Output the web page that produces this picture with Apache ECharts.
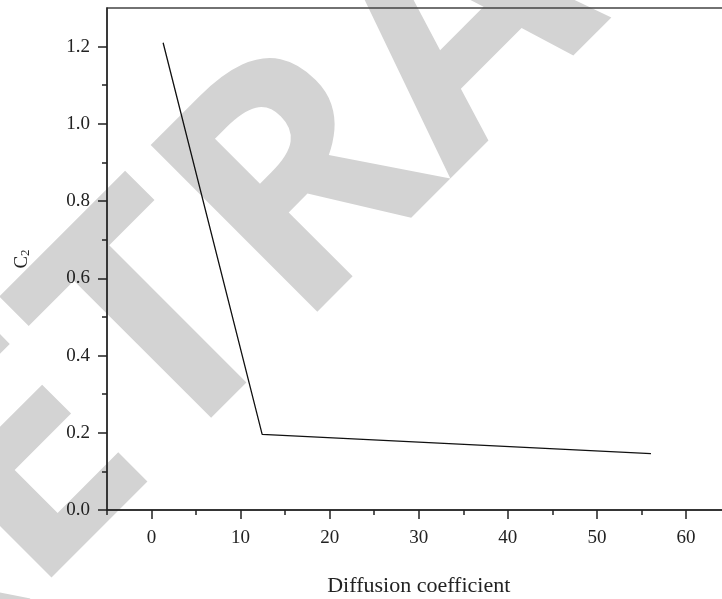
<!DOCTYPE html>
<html>
<head>
<meta charset="utf-8">
<script src="https://cdn.jsdelivr.net/npm/echarts@6/dist/echarts.min.js"></script>
<style>
  html, body { margin: 0; padding: 0; background: #fff; }
  #main { width: 722px; height: 599px; }
</style>
</head>
<body>
<div id="main"></div>
<script>
// data
var diffusion = [1.3, 12.42, 56.07];
var c2 = [1.21, 0.196, 0.146];

// tick positions
var xMajor = [0, 10, 20, 30, 40, 50, 60];
var xMinor = [-5, 5, 15, 25, 35, 45, 55, 65];
var yMajor = [0, 0.2, 0.4, 0.6, 0.8, 1.0, 1.2];
var yMinor = [0.1, 0.3, 0.5, 0.7, 0.9, 1.1];

var serif = '"Liberation Serif", "DejaVu Serif", serif';

var points = [];
for (var i = 0; i < diffusion.length; i++) {
  points.push([diffusion[i], c2[i]]);
}

var myChart = echarts.init(document.getElementById('main'));

var option = {
  backgroundColor: '#fff',
  animation: false,
  grid: {
    left: 107, top: 8, width: 623.5, height: 502,
    outerBoundsMode: 'none',
    containLabel: false,
    show: true, borderColor: '#444', borderWidth: 1.3, backgroundColor: 'transparent'
  },
  // watermark
  graphic: [{
    type: 'text',
    x: -190, y: 686,
    rotation: Math.PI / 4,
    z: -10,
    silent: true,
    style: {
      text: 'RETRACTED',
      fill: '#d3d3d3',
      font: 'bold 330px "Open Sans", sans-serif',
      textAlign: 'left',
      textVerticalAlign: 'middle'
    }
  }],
  xAxis: [
    {
      type: 'value', min: -5, max: 65,
      name: 'Diffusion coefficient',
      nameLocation: 'middle',
      nameGap: 65,
      nameTextStyle: { fontFamily: serif, fontSize: 22, color: '#222' },
      axisLine: { onZero: false, lineStyle: { color: '#222', width: 1.5 } },
      axisTick: { show: true, inside: false, length: 9, customValues: xMajor, lineStyle: { color: '#222', width: 1.5 } },
      axisLabel: { customValues: xMajor, margin: 19, fontFamily: serif, fontSize: 19, color: '#222' },
      splitLine: { show: false }
    },
    {
      type: 'value', min: -5, max: 65, position: 'bottom',
      axisLine: { show: false, onZero: false },
      axisTick: { show: true, length: 5, customValues: xMinor, lineStyle: { color: '#222', width: 1.5 } },
      axisLabel: { show: false },
      splitLine: { show: false }
    }
  ],
  yAxis: [
    {
      type: 'value', min: 0, max: 1.3,
      name: '{c|C}{s|2}',
      nameLocation: 'middle',
      nameGap: 75,
      nameRotate: 90,
      nameTextStyle: {
        color: '#222',
        rich: {
          c: { fontFamily: serif, fontSize: 19, lineHeight: 19, verticalAlign: 'top', color: '#222' },
          s: { fontFamily: serif, fontSize: 13, lineHeight: 13, padding: [11, 0, 0, 0], verticalAlign: 'bottom', color: '#222' }
        }
      },
      axisLine: { onZero: false, lineStyle: { color: '#222', width: 1.5 } },
      axisTick: { show: true, length: 9, customValues: yMajor, lineStyle: { color: '#222', width: 1.5 } },
      axisLabel: {
        customValues: yMajor, margin: 17, fontFamily: serif, fontSize: 19, color: '#222',
        formatter: function (v) { return v.toFixed(1); }
      },
      splitLine: { show: false }
    },
    {
      type: 'value', min: 0, max: 1.3, position: 'left',
      axisLine: { show: false, onZero: false },
      axisTick: { show: true, length: 5, customValues: yMinor, lineStyle: { color: '#222', width: 1.5 } },
      axisLabel: { show: false },
      splitLine: { show: false }
    }
  ],
  series: [{
    type: 'line',
    data: points,
    showSymbol: false,
    symbol: 'none',
    lineStyle: { color: '#111', width: 1.3 },
    z: 5
  }]
};

myChart.setOption(option);
</script>
</body>
</html>
